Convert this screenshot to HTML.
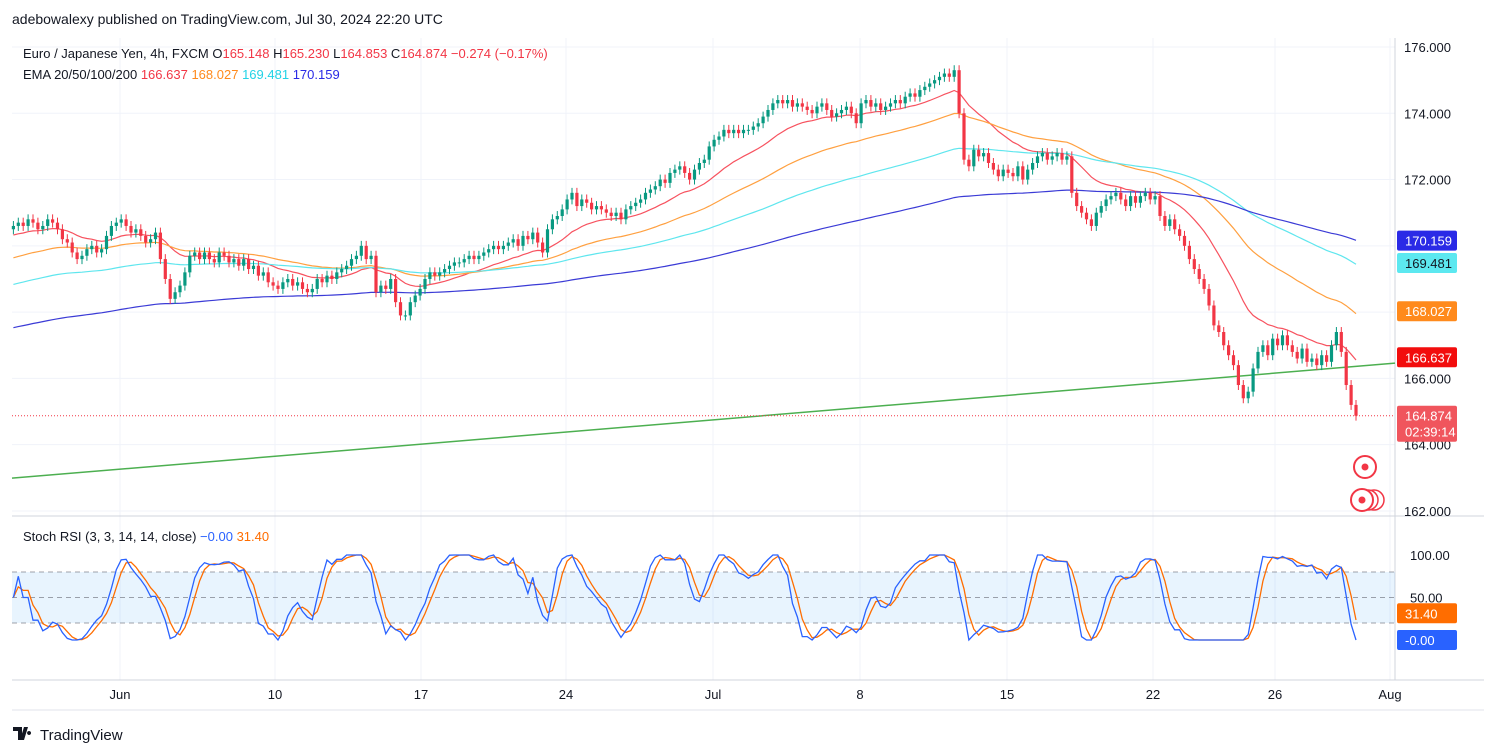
<!DOCTYPE html>
<html><head><meta charset="utf-8"><style>
body{margin:0;background:#fff;font-family:"Liberation Sans",sans-serif;}
#wrap{position:relative;width:1496px;height:756px;overflow:hidden;background:#fff}
svg{position:absolute;left:0;top:0}
.t{font-family:"Liberation Sans",sans-serif}
</style></head><body>
<div id="wrap">
<svg id="c" width="1496" height="756"></svg>
</div>
<script>
// ---- data ----
const closes=[
170.6,170.7,170.6,170.8,170.7,170.5,170.6,170.8,170.7,170.5,
170.2,170.1,169.8,169.6,169.7,169.9,170.0,169.8,169.9,170.3,
170.6,170.7,170.8,170.6,170.4,170.5,170.3,170.1,170.2,170.4,
169.6,169.0,168.4,168.6,168.8,169.2,169.7,169.8,169.6,169.8,
169.6,169.5,169.8,169.7,169.5,169.6,169.4,169.6,169.3,169.4,
169.1,169.2,168.9,168.8,168.7,168.9,169.0,168.8,168.9,168.7,
168.6,168.7,169.0,168.9,169.1,169.0,169.2,169.3,169.4,169.6,
169.7,170.0,169.6,169.7,168.6,168.8,168.7,169.0,168.3,167.9,
167.9,168.3,168.5,168.7,169.0,169.2,169.1,169.2,169.3,169.4,
169.5,169.5,169.6,169.7,169.6,169.7,169.8,169.9,170.0,169.9,
170.0,170.1,170.2,170.0,170.3,170.2,170.4,170.1,169.8,170.5,
170.8,170.9,171.1,171.4,171.6,171.2,171.4,171.3,171.1,171.2,
171.1,171.0,170.9,171.0,170.8,171.1,171.2,171.3,171.4,171.6,
171.7,171.8,172.0,171.9,172.2,172.3,172.4,172.2,172.0,172.3,
172.5,172.6,173.0,173.2,173.3,173.5,173.4,173.5,173.4,173.5,
173.5,173.6,173.7,173.9,174.1,174.3,174.4,174.3,174.4,174.2,
174.3,174.2,174.1,174.0,174.2,174.3,174.1,173.9,174.0,174.1,
174.2,174.0,173.7,174.3,174.4,174.2,174.3,174.1,174.2,174.3,
174.4,174.3,174.5,174.6,174.5,174.7,174.8,174.9,175.0,175.1,
175.2,175.1,175.3,174.0,172.6,172.4,172.9,172.7,172.8,172.5,
172.3,172.1,172.3,172.2,172.1,172.4,172.0,172.3,172.5,172.7,
172.8,172.6,172.7,172.8,172.6,172.7,171.6,171.2,171.0,170.8,
170.6,171.0,171.2,171.4,171.5,171.6,171.4,171.2,171.5,171.3,
171.5,171.6,171.4,171.5,170.9,170.6,170.8,170.5,170.3,170.0,
169.6,169.3,169.0,168.7,168.2,167.6,167.4,167.0,166.7,166.4,
165.8,165.4,165.6,166.3,166.8,167.0,166.7,167.2,167.0,167.3,
167.0,166.8,166.6,166.9,166.5,166.6,166.4,166.7,166.5,167.0,
167.4,166.8,165.8,165.2,164.874];
const firstOpen=170.5;
const emaPeriods=[20,50,100,200];
const emaSeeds=[170.3,169.6,168.8,167.5];
const emaColors=["#f7525f","#ffa040","#5fe6ee","#3b3bd6"];
const trendPrices=[162.99,166.46];
const priceTicks=[176,174,172,170,168,166,164,162];
const stochTicks=[100,50];
const dateLabels=["Jun","10","17","24","Jul","8","15","22","26","Aug"];
const dateX=[120,275,421,566,713,860,1007,1153,1275,1390];

// ---- axes ----
const py=p=>47+(176-p)*33.14;
const N=closes.length;
const cx=i=>1356-(N-1-i)*4.9;
const sy=v=>640-v*0.85;
const NS="http://www.w3.org/2000/svg";
const svg=document.getElementById('c');
function el(tag,attrs,parent){const e=document.createElementNS(NS,tag);for(const k in attrs)e.setAttribute(k,attrs[k]);(parent||svg).appendChild(e);return e;}
function txt(x,y,s,attrs){const e=el('text',Object.assign({x:x,y:y,'font-size':13,fill:'#131722','class':'t'},attrs||{}));e.textContent=s;return e;}

// grid
for(const p of priceTicks){const g=el('line',{x1:12,x2:1395,y1:py(p),y2:py(p),stroke:'#f0f3fa'});

}
for(const x of dateX){const g=el('line',{x1:x,x2:x,y1:38,y2:680,stroke:'#f0f3fa'});

}
// pane borders
el('line',{x1:12,x2:1484,y1:516,y2:516,stroke:'#d1d4dc'});
el('line',{x1:12,x2:1484,y1:680,y2:680,stroke:'#d1d4dc'});
el('line',{x1:1395,x2:1395,y1:38,y2:680,stroke:'#d1d4dc'});
el('line',{x1:12,x2:1484,y1:710,y2:710,stroke:'#e0e3eb'});

// trendline
{const t=el('line',{x1:12,x2:1395,y1:py(trendPrices[0]),y2:py(trendPrices[1]),stroke:'#4caf50','stroke-width':1.5});

}

// EMAs
const emaFinal=[];
emaPeriods.forEach((per,k)=>{let e=emaSeeds[k];const a=2/(per+1);let d='';
for(let i=0;i<N;i++){e=e+a*(closes[i]-e);d+=(i?'L':'M')+cx(i).toFixed(1)+' '+py(e).toFixed(1);}
emaFinal.push(e);
const p=el('path',{d:d,fill:'none',stroke:emaColors[k],'stroke-width':1.2});

});

// candles
let prev=firstOpen;
for(let i=0;i<N;i++){const o=prev,c=closes[i];const up=c>=o;const col=up?'#089981':'#f23645';
const hi=Math.max(o,c)+0.15,lo=Math.min(o,c)-0.15;
const g=el('g',{});


el('line',{x1:cx(i),x2:cx(i),y1:py(hi),y2:py(lo),stroke:col},g);
const top=py(Math.max(o,c)),h=Math.max(1,py(Math.min(o,c))-top);
el('rect',{x:cx(i)-1.6,y:top,width:3.2,height:h,fill:col},g);
prev=c;}

// last price line
{const l=el('line',{x1:12,x2:1395,y1:py(closes[N-1]),y2:py(closes[N-1]),stroke:'#f23645','stroke-dasharray':'1 2'});

}

// price axis labels
for(const p of priceTicks){if(p===170||p===168)continue;const t=txt(1404,py(p)+5,p.toFixed(3));

}
function box(y,h,bg,fg,lines,name){const g=el('g',{});


el('rect',{x:1397,y:y,width:60,height:h,fill:bg,rx:2},g);
lines.forEach((s,j)=>{const t=el('text',{x:1405,y:y+15+j*16,'font-size':13,fill:fg,'class':'t'},g);t.textContent=s;});}
box(py(170.159)-10,20,'#2a2ae6','#fff',['170.159'],'ema200-price-label');
box(py(169.481)-10,20,'#5ce8f0','#131722',['169.481'],'ema100-price-label');
box(py(168.027)-10,20,'#ff8a1c','#fff',['168.027'],'ema50-price-label');
box(py(166.637)-10,20,'#f20d0d','#fff',['166.637'],'ema20-price-label');
box(py(164.874)-10,36,'#f0555d','#fff',['164.874','02:39:14'],'last-price-label');

// alert icons
[[1365,467],[1362,500]].forEach((p,k)=>{const g=el('g',{});


if(k===1){el('circle',{cx:p[0]+12,cy:p[1],r:10,fill:'#fff',stroke:'#f23645','stroke-width':1.5},g);el('circle',{cx:p[0]+6,cy:p[1],r:10,fill:'#fff',stroke:'#f23645','stroke-width':1.5},g);}
el('circle',{cx:p[0],cy:p[1],r:11,fill:'#fff',stroke:'#f23645','stroke-width':2},g);
el('circle',{cx:p[0],cy:p[1],r:3.5,fill:'#f23645'},g);});

// ---- stoch RSI ----
el('rect',{x:12,y:sy(80),width:1383,height:sy(20)-sy(80),fill:'rgba(33,150,243,0.1)'});
[80,50,20].forEach(v=>{const l=el('line',{x1:12,x2:1395,y1:sy(v),y2:sy(v),stroke:'#787b86','stroke-dasharray':'5 4','stroke-opacity':0.7});

});
let ag=0,al=0;const rsi=[50];
for(let i=1;i<N;i++){const ch=closes[i]-closes[i-1];const a=i<14?1/i:1/14;ag=ag+a*(Math.max(ch,0)-ag);al=al+a*(Math.max(-ch,0)-al);rsi.push(al===0?100:100-100/(1+ag/al));}
const st=rsi.map((r,i)=>{const w=rsi.slice(Math.max(0,i-13),i+1);const mn=Math.min(...w),mx=Math.max(...w);return mx===mn?50:(r-mn)/(mx-mn)*100;});
const sma=(a,n)=>a.map((v,i)=>{const w=a.slice(Math.max(0,i-n+1),i+1);return w.reduce((s,x)=>s+x,0)/w.length;});
const K=sma(st,3),D=sma(K,3);
[[D,'#ff6d00','stoch-d-line'],[K,'#2962ff','stoch-k-line']].forEach(([arr,col,name])=>{let d='';arr.forEach((v,i)=>{d+=(i?'L':'M')+cx(i).toFixed(1)+' '+sy(v).toFixed(1);});
const p=el('path',{d:d,fill:'none',stroke:col,'stroke-width':1.3});

});
for(const v of stochTicks){const t=txt(1410,sy(v)+5,v.toFixed(2));

}
box(sy(31.4)-10,20,'#ff6d00','#fff',['31.40'],'stoch-d-value-label');
box(sy(0)-10,20,'#2962ff','#fff',['-0.00'],'stoch-k-value-label');

// date labels
dateLabels.forEach((s,k)=>{const t=txt(dateX[k],699,s,{'text-anchor':'middle'});

});

// headers
{const t=txt(12,24,'adebowalexy published on TradingView.com, Jul 30, 2024 22:20 UTC',{'font-size':14});

}
{const t=el('text',{x:23,y:58,'font-size':13,'class':'t',fill:'#131722'});


t.innerHTML='Euro / Japanese Yen, 4h, FXCM  <tspan fill="#131722">O</tspan><tspan fill="#f23645">165.148</tspan> H<tspan fill="#f23645">165.230</tspan> L<tspan fill="#f23645">164.853</tspan> C<tspan fill="#f23645">164.874  −0.274 (−0.17%)</tspan>';}
{const t=el('text',{x:23,y:79,'font-size':13,'class':'t',fill:'#131722'});


t.innerHTML='EMA 20/50/100/200  <tspan fill="#f23645">166.637</tspan>  <tspan fill="#ff8a1c">168.027</tspan>  <tspan fill="#22d3e6">169.481</tspan>  <tspan fill="#2a2ae6">170.159</tspan>';}
{const t=el('text',{x:23,y:541,'font-size':13,'class':'t',fill:'#131722'});


t.innerHTML='Stoch RSI (3, 3, 14, 14, close)  <tspan fill="#2962ff">−0.00</tspan>  <tspan fill="#ff6d00">31.40</tspan>';}
{const g=el('g',{});


el('path',{d:'M13 727h9v13h-4v-9h-5z M24 727h4l-4 13h-4z M29 731a2 2 0 1 0 0.1 0',fill:'#131722'},g);
const t=el('text',{x:40,y:740,'font-size':15,'class':'t',fill:'#131722'},g);t.textContent='TradingView';}
</script>
</body></html>
